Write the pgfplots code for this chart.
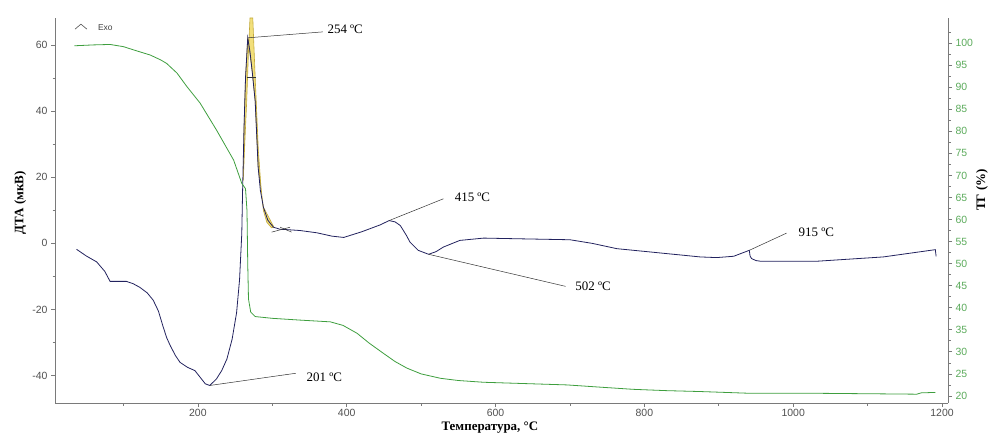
\documentclass[border=0pt]{standalone}
\usepackage{pgfplots}
\pgfplotsset{compat=1.18}
\usepackage{fontspec}
\setmainfont{Liberation Serif}
\setsansfont{Liberation Sans}
\definecolor{dta}{HTML}{22225E}
\definecolor{tg}{HTML}{3E9E3E}
\definecolor{tglab}{HTML}{5AAA5A}
\definecolor{axgray}{HTML}{7A7A7A}
\definecolor{labgray}{HTML}{505050}
\definecolor{yfill}{HTML}{F2DF7A}
\definecolor{yedge}{HTML}{C2A93A}
\pgfplotsset{
  common/.style={
    width=893bp, height=385bp, scale only axis,
    xmin=8, xmax=1208,
    axis line style={axgray, line width=0.8bp},
    tick style={axgray, line width=0.7bp},
    tick align=outside,
    major tick length=4bp, minor tick length=2.5bp,
    ticklabel style={font=\sffamily\fontsize{10.5}{12}\selectfont},
    clip=true,
  }
}
\begin{document}
\begin{tikzpicture}
\begin{axis}[common,
  axis y line*=left, axis x line*=bottom,
  ymin=-48.3, ymax=68.2,
  xtick={200,400,600,800,1000,1200},
  xticklabels={200,400,600,800,1000,1200},
  minor xtick={100,300,500,700,900,1100},
  ytick={-40,-20,0,20,40,60},
  yticklabels={-40,-20,0,20,40,60},
  minor ytick={-30,-10,10,30,50},
  xticklabel style={labgray, inner ysep=1.5bp},
  yticklabel style={labgray},
  xlabel={\bfseries Температура, °С},
  xlabel style={font=\fontsize{13}{14}\selectfont, inner sep=0pt, at={(axis description cs:0.487,-0.064)}, anchor=center},
  ylabel={\bfseries ДТА (мкВ)},
  ylabel style={font=\fontsize{13}{14}\selectfont, at={(axis description cs:-0.039,0.52)}, anchor=center, rotate=0},
]
% yellow peak area
\addplot[fill=yfill, draw=yedge, line width=0.6bp] coordinates {
(261,19) (263,30) (265.6,43) (268,58) (270,68.2) (273.8,68.2) (277,50.2)
(281.3,28) (284.5,18) (288,10) (292.6,6.4) (299,4.7) (302,5)
(288,11) (281,23) (277,43) (273,52) (267,62.2) (264,50) (262,35) (261,19)} -- cycle;
% DTA curve
\addplot[dta, line width=0.8bp] coordinates {
(37,-1.8) (50,-3.8) (64,-5.6) (75,-8.5) (82,-11.5) (90,-11.5) (104,-11.5)
(113,-12.2) (122,-13.3) (132,-15) (140,-17.2) (147,-20.5) (153,-25) (158,-28.5)
(163,-31) (170,-34) (176,-36) (186,-37.5) (196,-38.5) (203,-40.5) (210,-42.5)
(216,-43) (225,-41) (232,-38.5) (239,-35) (246,-29) (252,-21) (256,-11) (259,3)
(260,15) (262,35) (264,50) (267,62.2) (270,58) (273,52) (277,43) (281,23)
(284,16) (288,11) (294,7) (301.5,4.9) (310,4.3) (337,3.9) (360,3.2) (380,2.2)
(396,1.8) (420,3.5) (445,5.6) (457,6.9) (465,6.5) (472,5.4) (480,2.5) (485,0.4)
(496,-2.1) (510,-3.3) (520,-2.5) (530,-1.1) (552,0.9) (584,1.6) (629,1.4)
(700,1.1) (730,0) (763,-1.6) (808,-2.6) (875,-4.1) (897,-4.3) (920,-3.9)
(941,-2.1) (942,-3.8) (944,-4.6) (950,-5.2) (956,-5.4) (1032,-5.4) (1121,-4.1)
(1191,-1.9) (1192,-3.9)};
% leader lines and marks
\draw[black!80, line width=0.5bp] (axis cs:267,62.2) -- (axis cs:368,64.0);
\draw[black!80, line width=0.5bp] (axis cs:216,-43) -- (axis cs:331.5,-39.3);
\draw[black!80, line width=0.5bp] (axis cs:457,6.9) -- (axis cs:530,13.5);
\draw[black!80, line width=0.5bp] (axis cs:510,-3.3) -- (axis cs:694,-13);
\draw[black!80, line width=0.5bp] (axis cs:941,-2.1) -- (axis cs:991,3.1);
\draw[black!80, line width=0.5bp] (axis cs:299,3.4) -- (axis cs:324,4.9);
\draw[black!80, line width=0.5bp] (axis cs:310.5,4.9) -- (axis cs:326,3.4);
\draw[black!80, line width=0.5bp] (axis cs:265.6,50.2) -- (axis cs:278,50.2);
\node[anchor=west, font=\fontsize{13}{14}\selectfont, inner sep=0pt] at (axis cs:374,64.8) {254 ºC};
\node[anchor=west, font=\fontsize{13}{14}\selectfont, inner sep=0pt] at (axis cs:346,-40.5) {201 ºC};
\node[anchor=west, font=\fontsize{13}{14}\selectfont, inner sep=0pt] at (axis cs:545,14) {415 ºC};
\node[anchor=west, font=\fontsize{13}{14}\selectfont, inner sep=0pt] at (axis cs:707,-12.9) {502 ºC};
\node[anchor=west, font=\fontsize{13}{14}\selectfont, inner sep=0pt] at (axis cs:1007,3.3) {915 ºC};
\draw[black!70, line width=0.6bp] (axis description cs:0.0224,0.971) -- (axis description cs:0.029,0.984) -- (axis description cs:0.0358,0.971);
\node[anchor=west, font=\sffamily\fontsize{8.5}{9}\selectfont, text=black!75, inner sep=0pt] at (axis description cs:0.048,0.975) {Exo};
\end{axis}
\begin{axis}[common,
  axis y line*=right, axis x line=none,
  ymin=18.4, ymax=105.7,
  ytick={20,25,...,100},
  yticklabels={20,25,30,35,40,45,50,55,60,65,70,75,80,85,90,95,100},
  minor ytick={22.5,27.5,...,102.5},
  yticklabel style={tglab},
  ylabel={\bfseries ТГ (\%)},
  ylabel style={font=\fontsize{13}{14}\selectfont, at={(axis description cs:1.038,0.553)}, anchor=center, rotate=0},
]
\addplot[tg, line width=0.8bp] coordinates {
(34,99.4) (60,99.6) (82,99.7) (100,99.2) (113,98.5) (136,97.3) (150,96.2)
(158,95.4) (172,93.2) (185,90.2) (203,86.4) (225,80.3) (248,73.5) (259,68.2)
(264,67) (266,62) (267,50) (268,42) (271,39) (277,38) (300,37.6) (337,37.2)
(378,36.8) (395,36) (414,34.2) (430,32) (449,29.7) (465,27.8) (481,26.3)
(500,25) (526,24.0) (550,23.5) (584,23.1) (640,22.8) (696,22.5) (740,22)
(785,21.5) (830,21.2) (875,21.0) (942,20.6) (1032,20.6) (1100,20.5)
(1166,20.4) (1172,20.7) (1191,20.8)};
\end{axis}
\pgfresetboundingbox
\useasboundingbox (-55bp,-30bp) rectangle (936bp,403bp);
\end{tikzpicture}
\end{document}
